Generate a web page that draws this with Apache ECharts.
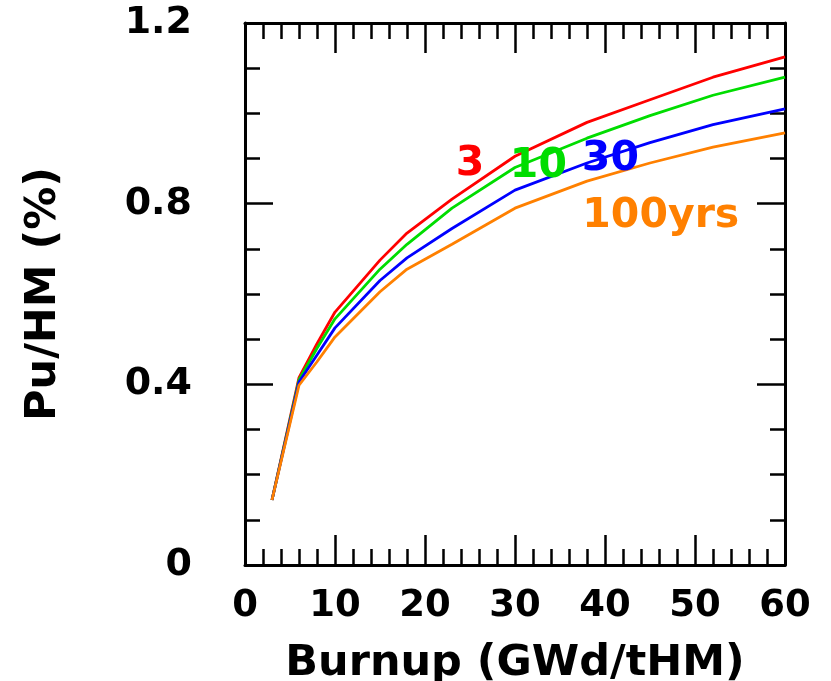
<!DOCTYPE html>
<html>
<head>
<meta charset="utf-8">
<script src="https://cdn.jsdelivr.net/npm/echarts@6/dist/echarts.min.js"></script>
<style>html,body{margin:0;padding:0;background:#fff}#c{width:831px;height:681px}</style>
</head>
<body>
<div id="c"></div>
<script>
var burnup = [3, 6, 8, 10, 15, 18, 23, 30, 38, 45, 52, 60];
var pu3yrs   = [0.144, 0.415, 0.49, 0.56, 0.675, 0.735, 0.81, 0.905, 0.98, 1.03, 1.08, 1.125];
var pu10yrs  = [0.144, 0.41, 0.48, 0.545, 0.655, 0.71, 0.79, 0.88, 0.945, 0.995, 1.04, 1.08];
var pu30yrs  = [0.144, 0.405, 0.465, 0.525, 0.63, 0.68, 0.745, 0.83, 0.89, 0.935, 0.975, 1.01];
var pu100yrs = [0.144, 0.398, 0.45, 0.505, 0.605, 0.655, 0.71, 0.79, 0.85, 0.89, 0.925, 0.957];
var seriesNames = ['3', '10', '30', '100yrs'];
var seriesColors = ['#ff0000', '#00dd00', '#0000ff', '#ff8000'];
var labelPos = [[25, 0.887], [32.6, 0.882], [40.6, 0.898], [46.2, 0.773]];
var xTicks = [0, 10, 20, 30, 40, 50, 60];
var yTicks = [0, 0.4, 0.8, 1.2];

var FONT = 'DejaVu Sans';
var allData = [pu3yrs, pu10yrs, pu30yrs, pu100yrs];

function pairs(ys) { return burnup.map(function (x, i) { return [x, ys[i]]; }); }

function fmtY(v) {
  for (var i = 0; i < yTicks.length; i++) if (Math.abs(yTicks[i] - v) < 1e-6) return String(yTicks[i]);
  return '';
}

var axisLineStyle = { color: '#000', width: 3 };
var series = allData.map(function (d, i) {
  return {
    type: 'line', name: seriesNames[i], data: pairs(d), showSymbol: false, symbol: 'none',
    lineStyle: { color: seriesColors[i], width: 2.8 }, animation: false, z: 3,
    markPoint: {
      symbol: 'circle', symbolSize: 0, animation: false,
      data: [{ coord: labelPos[i], value: seriesNames[i] }],
      label: { show: true, position: 'inside', formatter: seriesNames[i], color: seriesColors[i], fontFamily: FONT, fontWeight: 'bold', fontSize: 41 }
    }
  };
});

function mkX(pos, labels) {
  return {
    type: 'value', min: 0, max: 60, interval: 10, position: pos,
    axisLine: { show: true, onZero: false, lineStyle: axisLineStyle },
    axisTick: { show: true, inside: true, length: 30, lineStyle: { color: '#000', width: 2.5 } },
    minorTick: { show: true, splitNumber: 5, length: 16, lineStyle: { color: '#000', width: 2.5 } },
    axisLabel: labels ? { fontFamily: FONT, fontWeight: 'bold', fontSize: 37, color: '#000', margin: 23 } : { show: false },
    splitLine: { show: false }
  };
}
function mkY(pos, labels) {
  return {
    type: 'value', min: 0, max: 1.2, interval: 0.4, position: pos,
    axisLine: { show: true, onZero: false, lineStyle: axisLineStyle },
    axisTick: { show: true, inside: true, length: 28, lineStyle: { color: '#000', width: 2.5 } },
    minorTick: { show: true, splitNumber: 4, length: 15, lineStyle: { color: '#000', width: 2.5 } },
    axisLabel: labels ? { fontFamily: FONT, fontWeight: 'bold', fontSize: 38, color: '#000', margin: 53, formatter: fmtY } : { show: false },
    splitLine: { show: false }
  };
}

var xb = mkX('bottom', true);
xb.name = 'Burnup (GWd/tHM)'; xb.nameLocation = 'middle'; xb.nameGap = 77;
xb.nameTextStyle = { fontFamily: FONT, fontWeight: 'bold', fontSize: 43, color: '#000' };
var yl = mkY('left', true);
yl.name = 'Pu/HM (%)'; yl.nameLocation = 'middle'; yl.nameGap = 180; yl.nameRotate = 90;
yl.nameTextStyle = { fontFamily: FONT, fontWeight: 'bold', fontSize: 43, color: '#000' };

var chart = echarts.init(document.getElementById('c'), null, { renderer: 'canvas' });
chart.setOption({
  animation: false,
  backgroundColor: '#fff',
  grid: { left: 245, right: 46, top: 23, bottom: 116, containLabel: false, outerBoundsMode: 'none' },
  xAxis: [xb, mkX('top', false)],
  yAxis: [yl, mkY('right', false)],
  series: series
});
</script>
</body>
</html>
